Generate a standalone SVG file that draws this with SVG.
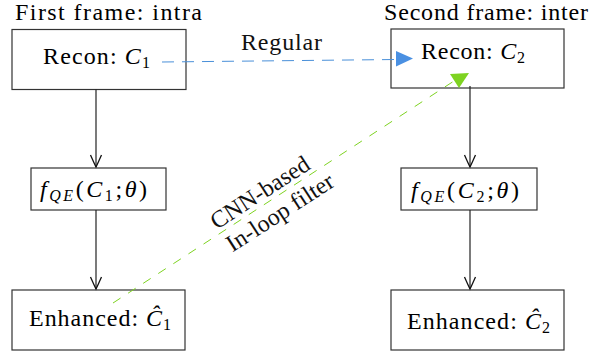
<svg xmlns="http://www.w3.org/2000/svg" width="590" height="354" viewBox="0 0 590 354">
<defs>
  <marker id="vee" markerUnits="userSpaceOnUse" markerWidth="16" markerHeight="14" refX="0" refY="0" viewBox="-14 -7 16 14" orient="auto">
    <path d="M-12,-5.5 Q-3,-1.5 0,0 Q-3,1.5 -12,5.5" fill="none" stroke="#111" stroke-width="1.3"/>
  </marker>
</defs>

<g id="titles">
<text x="15" y="19.5" font-family="Liberation Serif" font-size="24" textLength="187">First frame: intra</text>
<text x="384" y="19.5" font-family="Liberation Serif" font-size="24" textLength="204">Second frame: inter</text>
</g>

<g id="recon1">
  <rect x="12" y="29.5" width="174" height="60" fill="#fff" stroke="#333" stroke-width="1.2"/>
  <text x="43" y="64" font-family="Liberation Serif" font-size="24" textLength="107">Recon: <tspan font-style="italic">C</tspan><tspan font-size="16" dy="4">1</tspan></text>
</g>
<g id="recon2">
  <rect x="391" y="29" width="173" height="59" fill="#fff" stroke="#333" stroke-width="1.2"/>
  <text x="421" y="59" font-family="Liberation Serif" font-size="24" textLength="104">Recon: <tspan font-style="italic">C</tspan><tspan font-size="16" dy="4">2</tspan></text>
</g>
<g id="fqe1">
  <rect x="31" y="168" width="135" height="42" fill="#fff" stroke="#333" stroke-width="1.2"/>
  <text x="40" y="197" font-family="Liberation Serif" font-size="24" textLength="107"><tspan font-style="italic">f</tspan><tspan font-style="italic" font-size="16" dy="4">QE</tspan><tspan dy="-4">(</tspan><tspan font-style="italic">C</tspan><tspan font-size="16" dy="4">1</tspan><tspan dy="-4">;</tspan><tspan font-style="italic">θ</tspan>)</text>
</g>
<g id="fqe2">
  <rect x="401" y="168" width="136" height="42" fill="#fff" stroke="#333" stroke-width="1.2"/>
  <text x="411" y="198" font-family="Liberation Serif" font-size="24" textLength="108"><tspan font-style="italic">f</tspan><tspan font-style="italic" font-size="16" dy="4">QE</tspan><tspan dy="-4">(</tspan><tspan font-style="italic">C</tspan><tspan font-size="16" dy="4">2</tspan><tspan dy="-4">;</tspan><tspan font-style="italic">θ</tspan>)</text>
</g>
<g id="enh1">
  <rect x="12" y="290" width="173" height="60" fill="#fff" stroke="#333" stroke-width="1.2"/>
  <text x="29" y="326" font-family="Liberation Serif" font-size="24" textLength="142">Enhanced: <tspan font-style="italic">Ĉ</tspan><tspan font-size="16" dy="4">1</tspan></text>
</g>
<g id="enh2">
  <rect x="391" y="290" width="173" height="60" fill="#fff" stroke="#333" stroke-width="1.2"/>
  <text x="407" y="329" font-family="Liberation Serif" font-size="24" textLength="143">Enhanced: <tspan font-style="italic">Ĉ</tspan><tspan font-size="16" dy="4">2</tspan></text>
</g>

<g id="connectors" fill="none">
  <g stroke="#222" stroke-width="1.2">
    <line x1="96" y1="89.5" x2="96" y2="167" marker-end="url(#vee)"/>
    <line x1="96" y1="210" x2="96" y2="289" marker-end="url(#vee)"/>
    <line x1="470" y1="86" x2="470" y2="167" marker-end="url(#vee)"/>
    <line x1="470" y1="210" x2="470" y2="289" marker-end="url(#vee)"/>
  </g>
  <g id="regular">
    <line x1="162" y1="62" x2="396" y2="59.5" stroke="#4a90d9" stroke-width="1" stroke-dasharray="12 8"/>
    <polygon points="396,51 413,58.5 396,66.5" fill="#4a90e2"/>
    <text x="241" y="50" fill="#111" font-family="Liberation Serif" font-size="24" textLength="81">Regular</text>
  </g>
  <g id="cnn">
    <line x1="113" y1="303" x2="454" y2="81" stroke="#7ed321" stroke-width="1" stroke-dasharray="9 9"/>
    <polygon points="450,74 469,73 459,88" fill="#7ed321"/>
    <text transform="translate(261,194) rotate(-33)" x="0" y="6" fill="#111" font-family="Liberation Serif" font-size="24" text-anchor="middle">CNN-based</text>
    <text transform="translate(281,214) rotate(-33)" x="0" y="6" fill="#111" font-family="Liberation Serif" font-size="24" text-anchor="middle">In-loop filter</text>
  </g>
</g>
</svg>
